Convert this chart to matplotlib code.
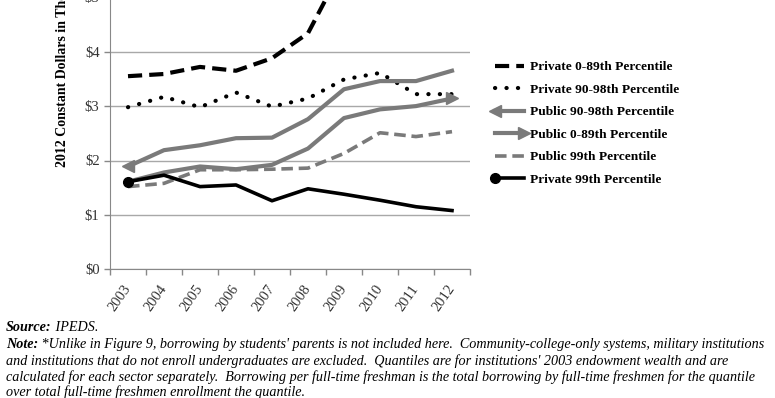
import matplotlib.pyplot as plt
from matplotlib.lines import Line2D
from matplotlib.legend_handler import HandlerLine2D

years = ['2003', '2004', '2005', '2006', '2007', '2008', '2009', '2010', '2011', '2012']
private_0_89 = [3.55, 3.59, 3.72, 3.65, 3.88, 4.34, 5.6, 6.3, 6.6, 7.0]
private_90_98 = [2.98, 3.17, 2.98, 3.25, 2.99, 3.14, 3.49, 3.61, 3.22, 3.22]
public_90_98 = [1.89, 2.19, 2.28, 2.41, 2.42, 2.76, 3.31, 3.46, 3.46, 3.65]
public_0_89 = [1.61, 1.78, 1.89, 1.84, 1.92, 2.22, 2.78, 2.94, 3.00, 3.14]
public_99 = [1.52, 1.58, 1.83, 1.83, 1.84, 1.86, 2.13, 2.51, 2.44, 2.53]
private_99 = [1.61, 1.73, 1.52, 1.55, 1.26, 1.48, 1.38, 1.27, 1.15, 1.08]
yticks = [0, 1, 2, 3, 4, 5, 6, 7, 8]

GRAY = '#7a7a7a'
SERIF = 'Liberation Serif'


class EndMarker(HandlerLine2D):
    # legend handle with the marker at one end of the line, like the chart
    def __init__(self, end=None, **kw):
        super().__init__(**kw)
        self.end = end

    def create_artists(self, legend, orig_handle, xdescent, ydescent,
                       width, height, fontsize, trans):
        y = (height - ydescent) / 2
        x0, x1 = -xdescent, width - xdescent
        line = Line2D([x0, x1], [y, y])
        self.update_prop(line, orig_handle, legend)
        line.set_marker('None')
        line.set_markevery(None)
        arts = [line]
        if self.end is not None:
            mx = x0 if self.end == 'start' else x1
            mk = Line2D([mx], [y])
            self.update_prop(mk, orig_handle, legend)
            mk.set_linestyle('None')
            mk.set_markevery(None)
            arts.append(mk)
        for a in arts:
            a.set_transform(trans)
        return arts


fig = plt.figure(figsize=(7.75, 3.98), dpi=100)
# axes runs off the top of the picture, as in the cropped original
ax = fig.add_axes([110 / 775, (398 - 269.3) / 398, 360 / 775, 8 * 54.4 / 398])

x = list(range(len(years)))
h1, = ax.plot(x, private_0_89, color='black', lw=3, linestyle=(0, (3.4, 1.7)),
              label='Private 0-89th Percentile')
h2, = ax.plot(x, private_90_98, color='black', lw=3, linestyle=(0, (0.05, 2.7)),
              dash_capstyle='round', label='Private 90-98th Percentile')
h3, = ax.plot(x, public_90_98, color=GRAY, lw=3, marker='<', markersize=9,
              markevery=[0], label='Public 90-98th Percentile')
h4, = ax.plot(x, public_0_89, color=GRAY, lw=3, marker='>', markersize=9,
              markevery=[len(years) - 1], label='Public 0-89th Percentile')
h5, = ax.plot(x, public_99, color=GRAY, lw=2.6, linestyle=(0, (3.2, 1.6)),
              label='Public 99th Percentile')
h6, = ax.plot(x, private_99, color='black', lw=2.6, marker='o', markersize=7,
              markevery=[0], label='Private 99th Percentile')

ax.set_xlim(-0.5, len(years) - 0.5)
ax.set_ylim(0, 8)
ax.set_yticks(yticks)
ax.set_yticklabels(['$%d' % v for v in yticks], fontfamily=SERIF, fontsize=10.5,
                   color='#333333')
ax.set_xticks([i - 0.5 for i in range(len(years) + 1)])
ax.set_xticklabels([])
ax.set_xticks(x, minor=True)
ax.set_xticklabels(years, minor=True, rotation=55, ha='right', va='center',
                   rotation_mode='anchor', fontfamily=SERIF, fontsize=10.5,
                   color='#333333')
ax.tick_params(axis='x', which='minor', length=0, pad=12)
ax.tick_params(axis='both', which='major', length=4, color='#888888', width=1)
ax.grid(axis='y', color='#a8a8a8', lw=1)
ax.set_axisbelow(True)
for s in ['top', 'right']:
    ax.spines[s].set_visible(False)
for s in ['left', 'bottom']:
    ax.spines[s].set_color('#888888')

ax.set_ylabel('2012 Constant Dollars in Thousands', fontfamily=SERIF,
              fontweight='bold', fontsize=10, ha='left')
ax.yaxis.set_label_coords(-0.115, (269.3 - 167) / (8 * 54.4))

fig.legend(handles=[h1, h2, h3, h4, h5, h6],
           handler_map={h3: EndMarker('start'), h4: EndMarker('end'),
                        h6: EndMarker('start'), h1: EndMarker(), h2: EndMarker(),
                        h5: EndMarker()},
           loc='upper left', bbox_to_anchor=(495 / 775, 1 - 61 / 398),
           bbox_transform=fig.transFigure, frameon=False, borderpad=0,
           borderaxespad=0, handlelength=2.2, handletextpad=0.4,
           labelspacing=0.76, prop={'family': SERIF, 'weight': 'bold', 'size': 9.6})

# footnote
fs = 10.2
lines = [
    ('Source:', ' IPEDS.'),
    ('Note:', " *Unlike in Figure 9, borrowing by students' parents is not included here.  "
              "Community-college-only systems, military institutions"),
    ('', "and institutions that do not enroll undergraduates are excluded.  Quantiles are for "
         "institutions' 2003 endowment wealth and are"),
    ('', "calculated for each sector separately.  Borrowing per full-time freshman is the total "
         "borrowing by full-time freshmen for the quantile"),
    ('', 'over total full-time freshmen enrollment the quantile.'),
]
ys = [328, 345, 361.5, 377.5, 393]
for (bold, rest), yy in zip(lines, ys):
    t = fig.text(6 / 775, 1 - (yy + 6) / 398, bold, fontfamily=SERIF, style='italic',
                 fontweight='bold', fontsize=fs, va='bottom')
    ax.annotate(rest, xy=(1, 0), xycoords=t, va='bottom', ha='left',
                fontfamily=SERIF, style='italic', fontsize=fs, annotation_clip=False)

fig.savefig('out.png', dpi=100)
